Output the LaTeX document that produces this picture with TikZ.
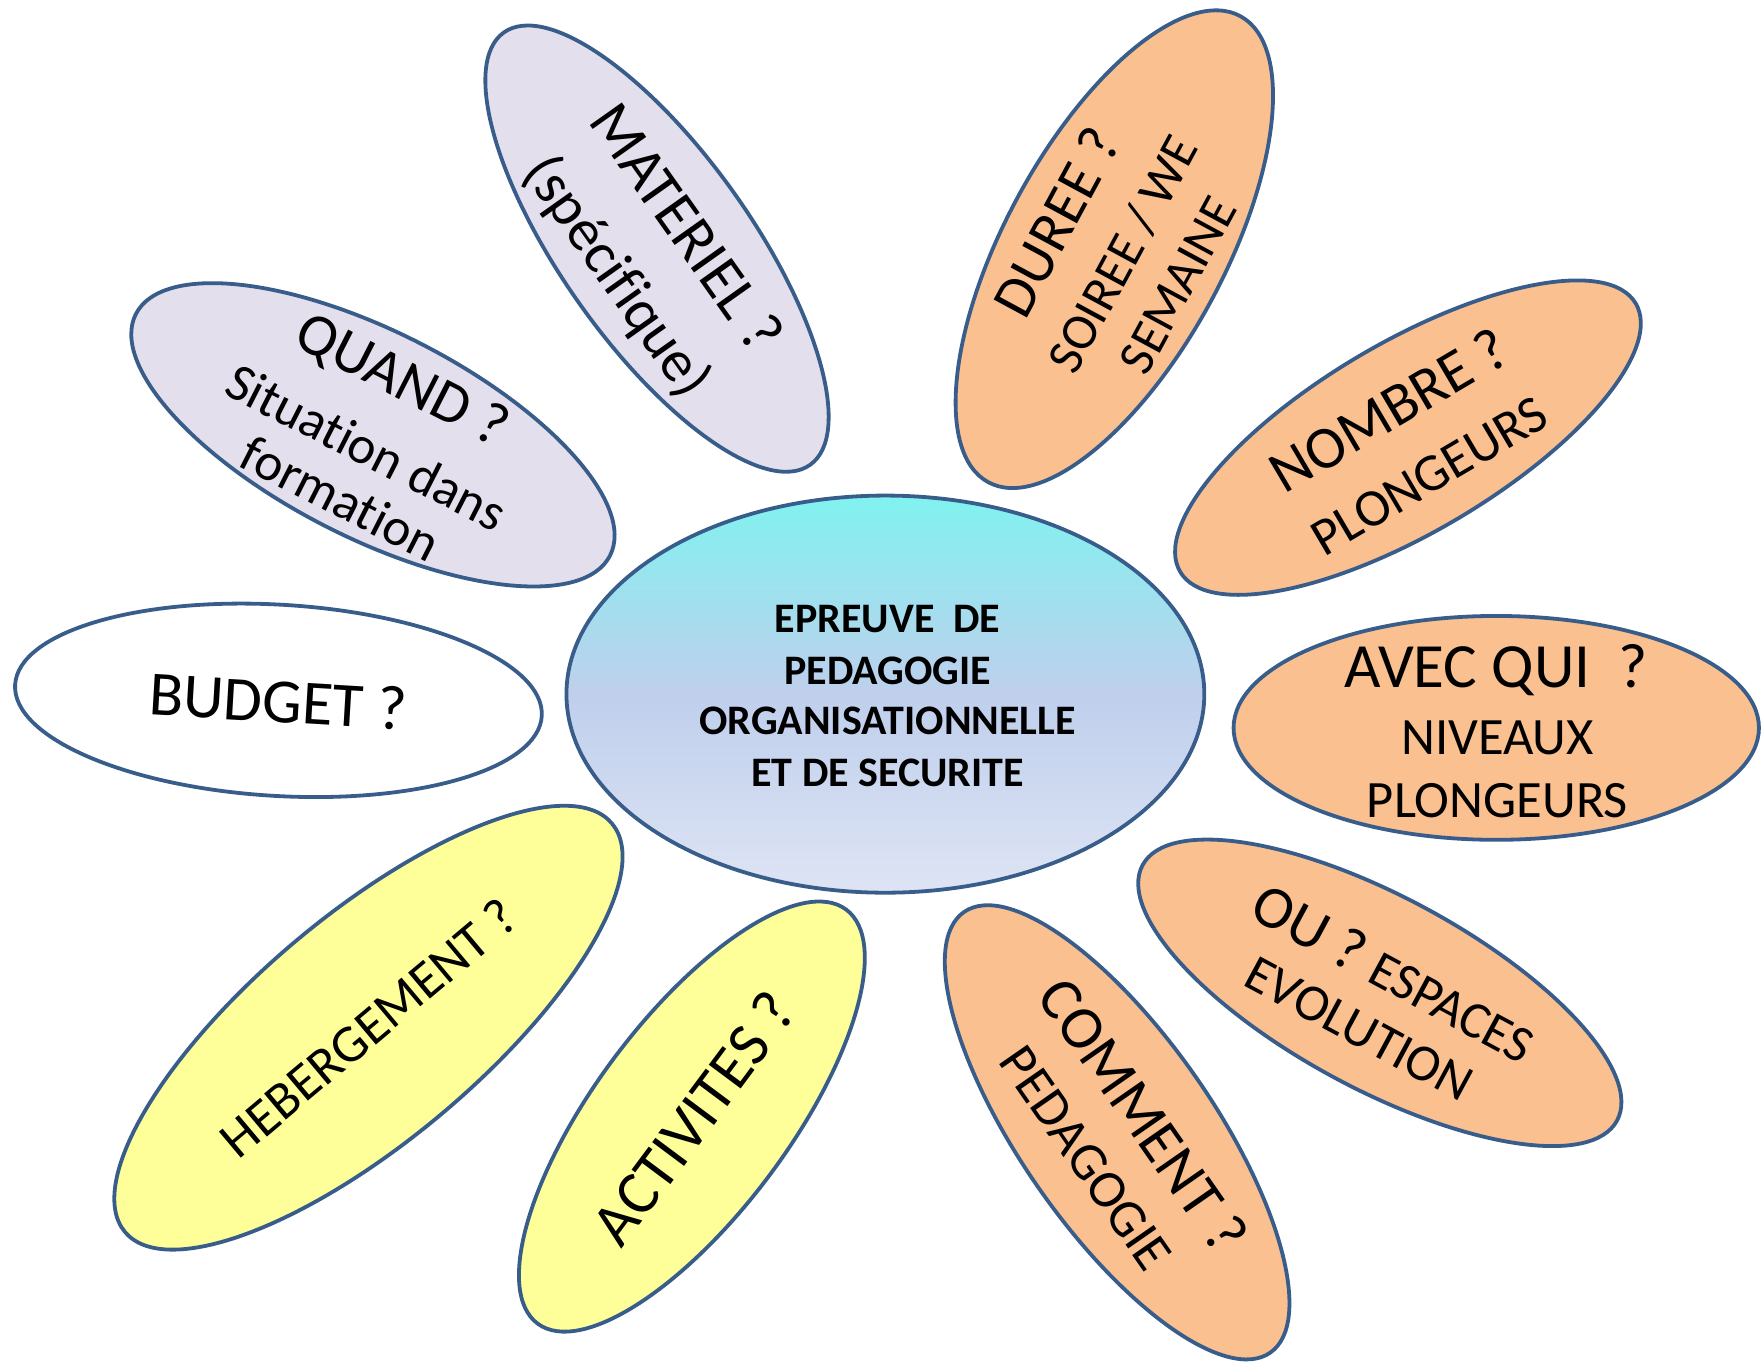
\documentclass[tikz,border=0pt]{standalone}
\usepackage{fontspec}
\setmainfont{Carlito}[Ligatures=NoCommon]
\usetikzlibrary{shapes.geometric}
\definecolor{edge}{HTML}{385D8A}
\definecolor{lav}{HTML}{E4DFEC}
\definecolor{ora}{HTML}{FAC090}
\definecolor{yel}{HTML}{FFFF99}
\definecolor{ctop}{HTML}{80F2F0}
\definecolor{cmid}{HTML}{BFCFEC}
\definecolor{cbot}{HTML}{DEE4F4}
\newcommand\fs[1]{\fontsize{#1}{#1}\selectfont}
\tikzset{
  petal/.style 2 args={draw=edge, line width=3.8pt, ellipse, inner sep=0pt,
    minimum width=#1*2*1.125pt, minimum height=#2*2*1.125pt, transform shape},
  lbl/.style={inner sep=0pt, anchor=center, transform shape, font=\fs{#1},
    text height=0.644*#1pt, text depth=0pt},
  ctext/.style={inner sep=0pt, anchor=base, font=\fs{42}\bfseries}
}
\begin{document}
\begin{tikzpicture}[x=1.125pt, y=-1.125pt]
\useasboundingbox (0,0) rectangle (1568,1210.67);

% centre
\node[ellipse, draw=edge, line width=3.8pt, inner sep=0pt,
  minimum width=2*283.5*1.125pt, minimum height=2*176.5*1.125pt,
  top color=ctop, bottom color=cbot, middle color=cmid] (centre) at (787,617) {};
\node[ctext] (c1) at (789,562.4) {EPREUVE~~DE};
\node[ctext] (c2) at (789,608) {PEDAGOGIE};
\node[ctext] (c3) at (789,653.3) {ORGANISATIONNELLE};
\node[ctext] (c4) at (789,698.7) {ET DE SECURITE};

% QUAND
\begin{scope}[shift={(331.5,386.5)}, rotate=-27]
  \node[petal={236.5}{91.5}, fill=lav] (quand) at (0,0) {};
  \node[lbl=60] (quand1) at (1,-56) {QUAND ?};
  \node[lbl=53] (quand2) at (0,13) {Situation dans};
  \node[lbl=53] (quand3) at (0,64) {formation};
\end{scope}

% MATERIEL
\begin{scope}[shift={(584,221)}, rotate=-54.7]
  \node[petal={235.5}{84.5}, fill=lav] (mat) at (0,0) {};
  \node[lbl=61] (mat1) at (0,-32) {MATERIEL ?};
  \node[lbl=59] (mat2) at (0,42) {(spécifique)};
\end{scope}

% DUREE
\begin{scope}[shift={(990.5,221.5)}, rotate=61.6]
  \node[petal={235.5}{97.5}, fill=ora] (duree) at (0,0) {};
  \node[lbl=59] (duree1) at (-3,-56) {DUREE ?};
  \node[lbl=51] (duree2) at (0,9) {SOIREE / WE};
  \node[lbl=51] (duree3) at (-1,65) {SEMAINE};
\end{scope}

% NOMBRE
\begin{scope}[shift={(1251.5,389)}, rotate=30.5]
  \node[petal={235}{84.5}, fill=ora] (nombre) at (0,0) {};
  \node[lbl=60] (nombre1) at (-2,-29) {NOMBRE ?};
  \node[lbl=53] (nombre2) at (-1,39) {PLONGEURS};
\end{scope}

% AVEC QUI
\begin{scope}[shift={(1330,647)}]
  \node[petal={233.5}{99.5}, fill=ora] (avec) at (0,0) {};
  \node[lbl=63] (avec1) at (0,-54) {AVEC QUI~~?};
  \node[lbl=52.5] (avec2) at (1,8.5) {NIVEAUX};
  \node[lbl=52.5] (avec3) at (1,65) {PLONGEURS};
\end{scope}

% OU
\begin{scope}[shift={(1226.5,882.5)}, rotate=-28.3]
  \node[petal={239.5}{85.5}, fill=ora] (ou) at (0,0) {};
  \node[lbl=60] (ou1) at (3,-21) {OU ? {\fs{52}ESPACES}};
  \node[lbl=52] (ou2) at (-1,37) {EVOLUTION};
\end{scope}

% COMMENT
\begin{scope}[shift={(993,1006.5)}, rotate=-55.2]
  \node[petal={238.5}{85.5}, fill=ora] (comment) at (0,0) {};
  \node[lbl=61] (comment1) at (1,-27) {COMMENT ?};
  \node[lbl=53.5] (comment2) at (3,36) {PEDAGOGIE};
\end{scope}

% ACTIVITES
\begin{scope}[shift={(615,992.5)}, rotate=53.3]
  \node[petal={229.5}{86.5}, fill=yel] (activ) at (0,0) {};
  \node[lbl=62] (activ1) at (0,3) {ACTIVITES ?};
\end{scope}

% HEBERGEMENT
\begin{scope}[shift={(327.5,913.5)}, rotate=40]
  \node[petal={282.5}{100.5}, fill=yel] (heber) at (0,0) {};
  \node[lbl=53] (heber1) at (0,1) {HEBERGEMENT ?};
\end{scope}

% BUDGET
\begin{scope}[shift={(247.5,622.5)}, rotate=-3.4]
  \node[petal={234.5}{85}, fill=white] (budget) at (0,0) {};
  \node[lbl=63] (budget1) at (0,1.5) {BUDGET ?};
\end{scope}
\end{tikzpicture}
\end{document}
